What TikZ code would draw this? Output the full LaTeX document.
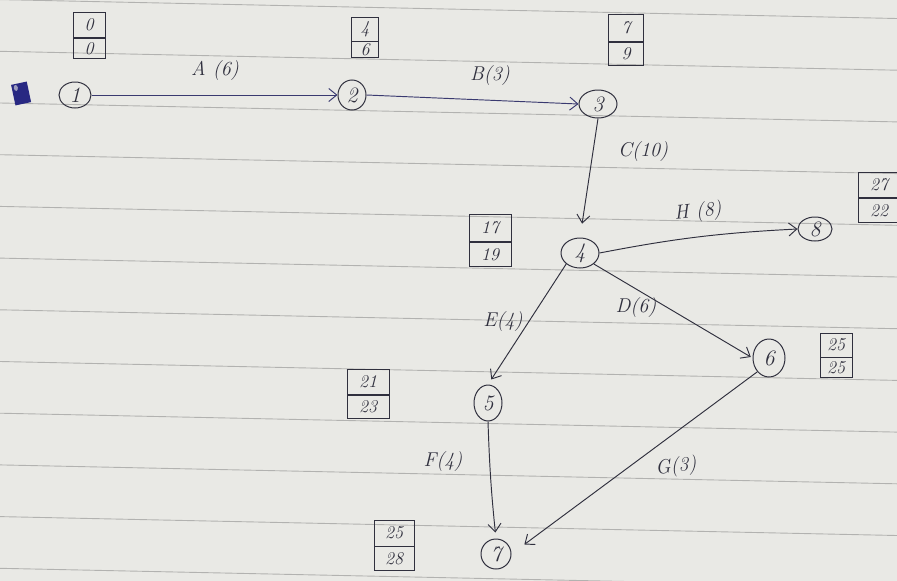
\documentclass[tikz,border=0pt]{standalone}
\usetikzlibrary{arrows.meta,shapes.geometric}
\definecolor{paper}{RGB}{233,233,229}
\definecolor{rule}{RGB}{178,178,176}
\definecolor{ink}{RGB}{48,48,62}
\definecolor{blueink}{RGB}{58,58,112}
\definecolor{scrib}{RGB}{40,40,130}
\begin{document}
\begin{tikzpicture}[x=1pt,y=-1pt,
  ev/.style={draw=ink,line width=1pt,ellipse,inner sep=0pt,text=ink,
     font=\fontsize{22}{24}\selectfont\itshape},
  cell/.style={draw=ink,line width=0.9pt,rectangle,inner sep=0pt,text=ink,
     font=\fontsize{18}{20}\selectfont\itshape},
  lab/.style={text=ink,font=\fontsize{20}{22}\selectfont\itshape,inner sep=1pt},
  act/.style={draw=ink,line width=0.95pt,-{Straight Barb[length=8pt,width=13pt]}},
  acb/.style={act,draw=blueink}
]
\useasboundingbox (0,0) rectangle (897,581);
\fill[paper] (0,0) rectangle (897,581);
\foreach \k in {0,...,11}{
  \draw[rule,line width=0.9pt] (0,{-0.4+51.7*\k}) -- (897,{18.5+51.7*\k});
}
% scribble
\fill[scrib,rotate around={12:(21,93)}] (13,83) rectangle (29,104);
\fill[paper!60!scrib,rotate around={12:(21,93)}] (17,87) ellipse (2pt and 3pt);

% events
\node[ev,minimum width=32,minimum height=26] (n1) at (75,95) {1};
\node[ev,minimum width=28,minimum height=30] (n2) at (352,95) {2};
\node[ev,minimum width=38,minimum height=28] (n3) at (598,104) {3};
\node[ev,minimum width=38,minimum height=30] (n4) at (580,253) {4};
\node[ev,minimum width=34,minimum height=24] (n8) at (815,229) {8};
\node[ev,minimum width=28,minimum height=36] (n5) at (488,403) {5};
\node[ev,minimum width=32,minimum height=38] (n6) at (769,358) {6};
\node[ev,minimum width=30,minimum height=30] (n7) at (496,554) {7};

% time boxes
\node[cell,minimum width=32,minimum height=25] (b1t) at (89,25) {0};
\node[cell,minimum width=32,minimum height=20,anchor=north] (b1b) at (b1t.south) {0};
\node[cell,minimum width=27,minimum height=24] (b2t) at (365,29) {4};
\node[cell,minimum width=27,minimum height=16,anchor=north] (b2b) at (b2t.south) {6};
\node[cell,minimum width=35,minimum height=27] (b3t) at (626,28) {7};
\node[cell,minimum width=35,minimum height=23,anchor=north] (b3b) at (b3t.south) {9};
\node[cell,minimum width=42,minimum height=27] (b4t) at (490,228) {17};
\node[cell,minimum width=42,minimum height=24,anchor=north] (b4b) at (b4t.south) {19};
\node[cell,minimum width=42,minimum height=25] (b8t) at (879,185) {27};
\node[cell,minimum width=42,minimum height=24,anchor=north] (b8b) at (b8t.south) {22};
\node[cell,minimum width=32,minimum height=24] (b6t) at (836,345) {25};
\node[cell,minimum width=32,minimum height=20,anchor=north] (b6b) at (b6t.south) {25};
\node[cell,minimum width=42,minimum height=25] (b5t) at (368,382) {21};
\node[cell,minimum width=42,minimum height=23,anchor=north] (b5b) at (b5t.south) {23};
\node[cell,minimum width=40,minimum height=26] (b7t) at (394,533) {25};
\node[cell,minimum width=40,minimum height=24,anchor=north] (b7b) at (b7t.south) {28};

% activities
\draw[acb] (n1.east) -- (n2.west);
\draw[acb] (n2.east) -- (n3.west);
\draw[act,shorten >=14pt] (n3.south) -- (n4.north);
\draw[act] (n4.east) to[bend left=4] (n8.west);
\draw[act,shorten >=2pt] (n4.south east) -- (n6.west);
\draw[act,shorten >=6pt] (n4.south west) -- (n5.north);
\draw[act,shorten >=6pt] (n5.south) to[bend right=2] (n7.north);
\draw[act,shorten >=16pt] (n6.south west) -- (n7.east);

% activity labels
\node[lab] (la) at (215,71) {A (6)};
\node[lab] (lb) at (490,76) {B(3)};
\node[lab] (lc) at (643,152) {C(10)};
\node[lab,rotate=6] (lh) at (698,212) {H (8)};
\node[lab] (ld) at (636,308) {D(6)};
\node[lab] (le) at (503,322) {E(4)};
\node[lab] (lf) at (443,462) {F(4)};
\node[lab,rotate=6] (lg) at (676,467) {G(3)};
\end{tikzpicture}
\end{document}
